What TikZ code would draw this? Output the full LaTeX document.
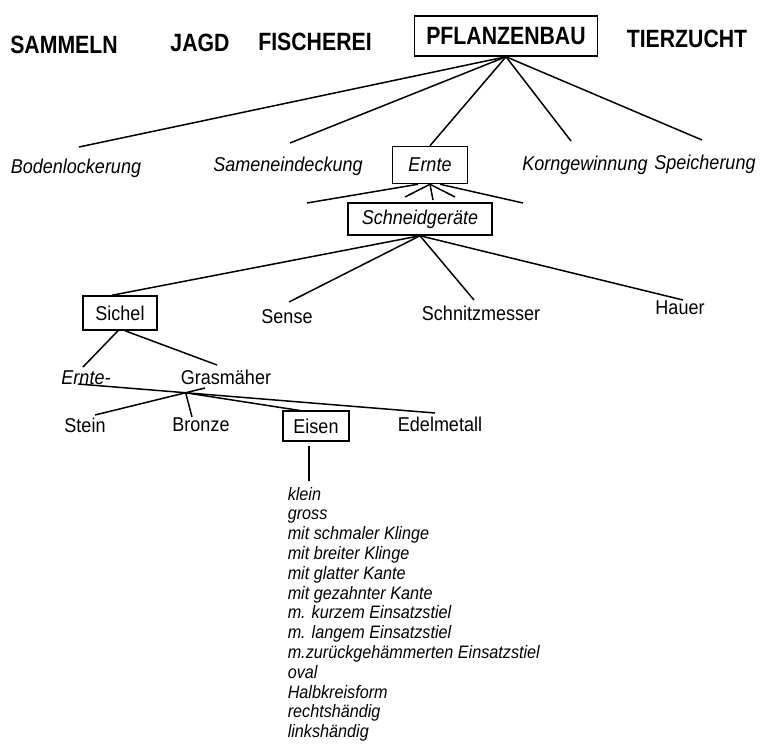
\documentclass[tikz,border=0pt]{standalone}
\usepackage{fontspec}
\setmainfont{Liberation Sans}[FakeStretch=0.9]
\newfontfamily\topfont{Liberation Sans}[FakeStretch=0.85]
\begin{document}
\begin{tikzpicture}[x=1pt,y=-1pt,line width=1.5pt,
  toplbl/.style={font=\topfont\fontsize{25}{28}\selectfont\bfseries,inner sep=0pt},
  lbl/.style={font=\fontsize{20}{22}\selectfont,inner sep=0pt},
  ilbl/.style={font=\fontsize{20}{22}\selectfont\itshape,inner sep=0pt},
  listlbl/.style={font=\fontsize{18}{20}\selectfont\itshape,inner sep=0pt,anchor=base west},
  boxed/.style={draw,line width=1.5pt}]
\useasboundingbox (0,0) rectangle (760,749);
\fill[white] (0,0) rectangle (760,749);
% top row
\node[toplbl] (sammeln) at (64,45) {SAMMELN};
\node[toplbl] (jagd) at (200,43) {JAGD};
\node[toplbl] (fischerei) at (315,42) {FISCHEREI};
\node[toplbl,boxed,minimum width=183pt,minimum height=40pt] (pflanzenbau) at (506,36) {PFLANZENBAU};
\node[toplbl] (tierzucht) at (687,39) {TIERZUCHT};
% second row
\node[ilbl] (boden) at (76,168) {Bodenlockerung};
\node[ilbl] (samen) at (288,166) {Sameneindeckung};
\node[ilbl,boxed,minimum width=75pt,minimum height=37pt] (ernte) at (430,165) {Ernte};
\node[ilbl] (korn) at (585,165) {Korngewinnung};
\node[ilbl] (speich) at (705,164) {Speicherung};
\coordinate (bodtop) at (79,147);
\coordinate (samtop) at (290,143);
\coordinate (korntop) at (571,141);
\coordinate (spetop) at (702,140);
\draw (pflanzenbau.south) -- (bodtop);
\draw (pflanzenbau.south) -- (samtop);
\draw (pflanzenbau.south) -- (ernte.north);
\draw (pflanzenbau.south) -- (korntop);
\draw (pflanzenbau.south) -- (spetop);
% Schneidgeraete
\node[ilbl,boxed,minimum width=144pt,minimum height=32pt] (schneid) at (420,219) {Schneidgeräte};
\coordinate (eL) at (307,203);
\coordinate (eR) at (523,203);
\coordinate (es1) at (405,197);
\coordinate (es2) at (433,200);
\coordinate (es3) at (455,197);
\draw ([xshift=-12pt]ernte.south) -- (eL);
\draw ([xshift=10pt]ernte.south) -- (eR);
\draw (ernte.south) -- (es1);
\draw (ernte.south) -- (es2);
\draw (ernte.south) -- (es3);
% third row
\node[lbl,boxed,minimum width=74pt,minimum height=34pt] (sichel) at (120,313) {Sichel};
\node[lbl] (sense) at (287,317) {Sense};
\node[lbl] (schnitz) at (481,313) {Schnitzmesser};
\node[lbl] (hauer) at (680,308) {Hauer};
\coordinate (sensetop) at (289,302);
\coordinate (schnitztop) at (474,300);
\coordinate (hauertop) at (683,300);
\draw (schneid.south) -- ([xshift=-8pt]sichel.north);
\draw (schneid.south) -- (sensetop);
\draw (schneid.south) -- (schnitztop);
\draw (schneid.south) -- (hauertop);
% fourth row
\node[ilbl] (ernteS) at (86,378) {Ernte-};
\node[lbl] (gras) at (226,377) {Grasmäher};
\coordinate (ernteStop) at (83,367);
\coordinate (grastop) at (217,365);
\draw ([xshift=-2pt]sichel.south) -- (ernteStop);
\draw ([xshift=5pt]sichel.south) -- (grastop);
% fifth row
\node[lbl] (stein) at (85,425) {Stein};
\node[lbl] (bronze) at (201,425) {Bronze};
\node[lbl,boxed,minimum width=66pt,minimum height=30pt] (eisen) at (316,426) {Eisen};
\node[lbl] (edel) at (440,424) {Edelmetall};
\coordinate (aL) at (78,384);
\coordinate (aR) at (435,413);
\coordinate (bT) at (205,388);
\coordinate (bB) at (95,415);
\coordinate (X) at (intersection of aL--aR and bT--bB);
\coordinate (bronzetop) at (192,417);
\coordinate (eisentop) at (303,411);
\draw (aL) -- (aR);
\draw (bT) -- (bB);
\draw (X) -- (bronzetop);
\draw (X) -- (eisentop);
% list
\coordinate (lt0) at (309,446);
\coordinate (lt) at (309,481);
\draw (lt0) -- (lt);
\foreach \t [count=\i from 0] in {klein,gross,mit schmaler Klinge,mit breiter Klinge,mit glatter Kante,mit gezahnter Kante,m. kurzem Einsatzstiel,m. langem Einsatzstiel,m.zurückgehämmerten Einsatzstiel,oval,Halbkreisform,rechtshändig,linkshändig}
  \node[listlbl] (list\i) at (287,{500+\i*19.8}) {\t};
\end{tikzpicture}
\end{document}
